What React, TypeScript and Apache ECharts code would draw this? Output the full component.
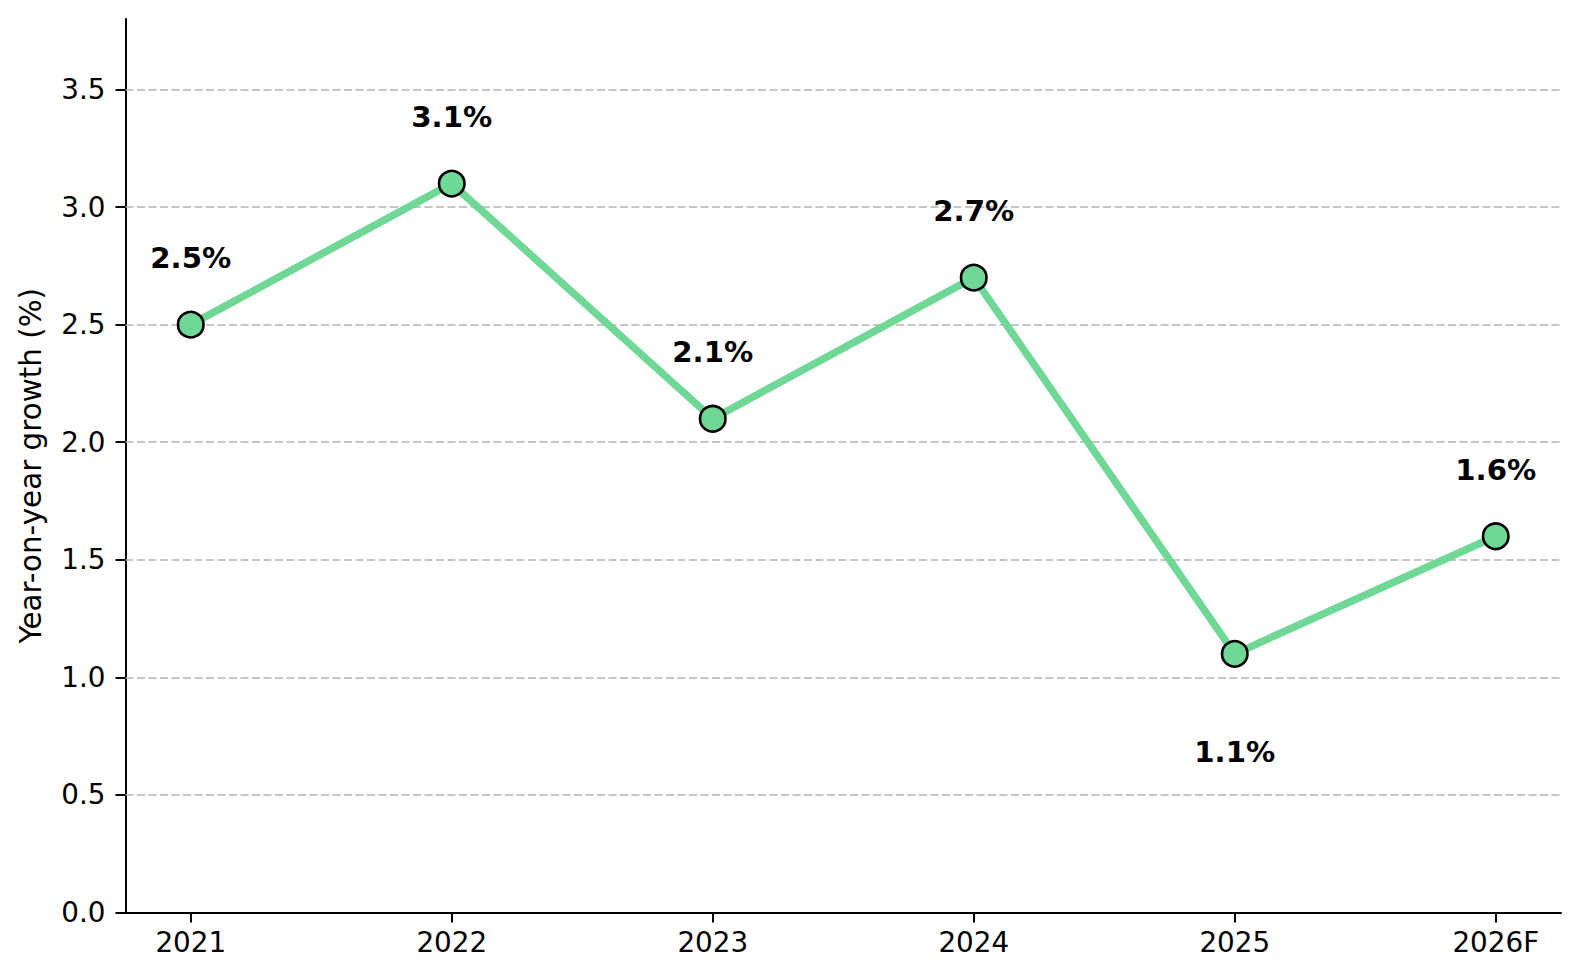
import React, { useEffect, useRef } from "react";
import * as echarts from "echarts";

const categories = ["2021", "2022", "2023", "2024", "2025", "2026F"];
const growth = [2.5, 3.1, 2.1, 2.7, 1.1, 1.6];
const labelBelow = [false, false, false, false, true, false];
const yTicks = [0, 0.5, 1.0, 1.5, 2.0, 2.5, 3.0, 3.5];
const gridValues = [0.5, 1.0, 1.5, 2.0, 2.5, 3.0, 3.5];

const FONT = "DejaVu Sans";
const GREEN = "#6fd897";

export default function App() {
  const ref = useRef<HTMLDivElement>(null);
  useEffect(() => {
    if (!ref.current) return;
    const chart = echarts.init(ref.current, undefined, { renderer: "svg" });
    const xIdx = categories.map((_, i) => i);
    chart.setOption({
      animation: false,
      backgroundColor: "#ffffff",
      textStyle: { fontFamily: FONT },
      grid: { left: 125.5, right: 19, top: 19, bottom: 67.5, containLabel: false },
      xAxis: {
        type: "value",
        min: -0.25,
        max: 5.25,
        splitLine: { show: false },
        axisLine: { show: true, onZero: false, lineStyle: { color: "#000", width: 2 } },
        axisTick: {
          show: true,
          customValues: xIdx,
          length: 10,
          lineStyle: { color: "#000", width: 2 },
        },
        axisLabel: {
          customValues: xIdx,
          formatter: (v: number) => categories[Math.round(v)] ?? "",
          fontFamily: FONT,
          fontSize: 27.8,
          color: "#000",
          margin: 16,
        },
      },
      yAxis: {
        type: "value",
        min: 0,
        max: 3.8,
        name: "Year-on-year growth (%)",
        nameLocation: "middle",
        nameRotate: 90,
        nameGap: 80,
        nameTextStyle: { fontFamily: FONT, fontSize: 29.4, color: "#000" },
        splitLine: { show: false },
        axisLine: { show: true, onZero: false, lineStyle: { color: "#000", width: 2 } },
        axisTick: {
          show: true,
          customValues: yTicks,
          length: 10,
          lineStyle: { color: "#000", width: 2 },
        },
        axisLabel: {
          customValues: yTicks,
          formatter: (v: number) => v.toFixed(1),
          fontFamily: FONT,
          fontSize: 27.8,
          color: "#000",
          margin: 20,
        },
      },
      series: [
        {
          type: "line",
          data: growth.map((v, i) => ({
            value: [i, v],
            label: {
              position: labelBelow[i] ? "bottom" : "top",
              distance: labelBelow[i] ? 70 : 38,
            },
          })),
          z: 3,
          lineStyle: { color: GREEN, width: 7.5 },
          symbol: "circle",
          symbolSize: 25.5,
          itemStyle: { color: GREEN, borderColor: "#000", borderWidth: 2.6 },
          label: {
            show: true,
            formatter: (p: any) => `${p.value[1].toFixed(1)}%`,
            fontFamily: FONT,
            fontSize: 29.2,
            fontWeight: "bold",
            color: "#000",
            lineHeight: 29,
          },
          markLine: {
            silent: true,
            symbol: ["none", "none"],
            label: { show: false },
            z: 1,
            lineStyle: { color: "#b4b4b4", width: 1.7, type: [8, 3.5] },
            data: gridValues.map((v) => ({ yAxis: v })),
          },
        },
      ],
    });
    return () => chart.dispose();
  }, []);
  return (
    <div
      ref={ref}
      style={{ position: "absolute", left: 0, top: 0, width: 1580, height: 980, background: "#fff" }}
    />
  );
}
